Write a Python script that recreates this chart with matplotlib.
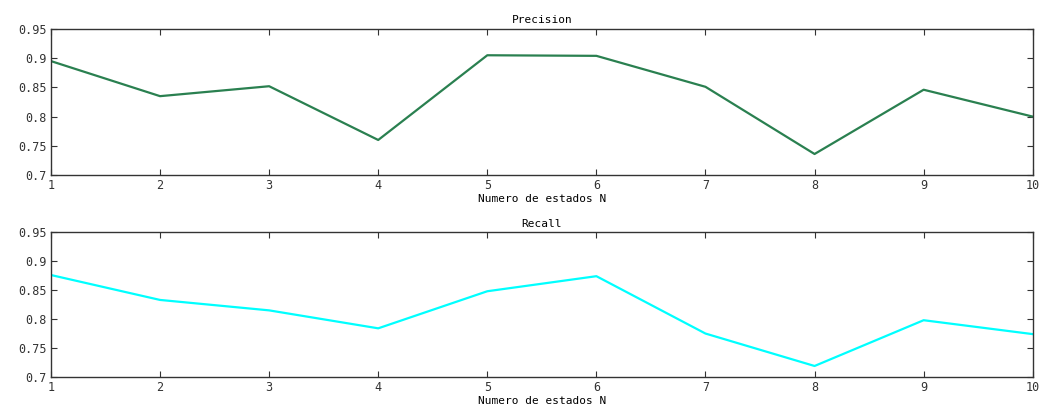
import matplotlib
matplotlib.use('Agg')
import matplotlib.pyplot as plt

#-----------Data-------------

n_states  = [1, 2, 3, 4, 5, 6, 7, 8, 9, 10]
precision = [0.895, 0.835, 0.852, 0.760, 0.905, 0.904, 0.851, 0.736, 0.846, 0.800]
recall    = [0.876, 0.833, 0.815, 0.784, 0.848, 0.874, 0.775, 0.719, 0.798, 0.774]
yticks    = [0.7, 0.75, 0.8, 0.85, 0.9, 0.95]
ytick_lbl = ['0.7', '0.75', '0.8', '0.85', '0.9', '0.95']

plt.rcParams['font.family'] = 'DejaVu Sans Mono'
plt.rcParams['font.size'] = 8

fig = plt.figure(figsize=(10.4, 4.08), dpi=100)

panels = [
    ([0.049, 0.571, 0.944, 0.358], precision, '#2a8050', 'Precision'),
    ([0.049, 0.076, 0.944, 0.355], recall, '#00ffff', 'Recall'),
]

for rect, vals, color, title in panels:
    ax = fig.add_axes(rect)
    ax.plot(n_states, vals, color=color, linewidth=1.6)
    ax.set_xlim(1, 10)
    ax.set_ylim(0.7, 0.95)
    ax.set_xticks(n_states)
    ax.set_yticks(yticks)
    ax.set_yticklabels(ytick_lbl)
    ax.tick_params(direction='in', top=True, right=True, length=4, pad=3,
                   labelsize=8.5, colors='#333333')
    ax.set_title(title, fontsize=8, pad=4)
    ax.set_xlabel('Numero de estados N', fontsize=8, labelpad=1)
    for s in ax.spines.values():
        s.set_color('#333333')
        s.set_linewidth(1.0)

fig.savefig('out.png', dpi=100)
